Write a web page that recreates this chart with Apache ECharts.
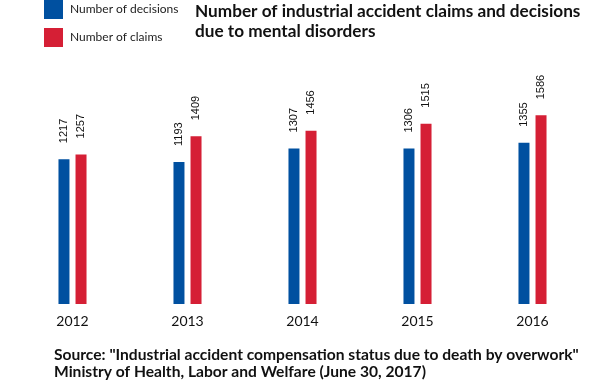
<!DOCTYPE html>
<html><head><meta charset="utf-8">
<script src="https://cdn.jsdelivr.net/npm/echarts@6/dist/echarts.min.js"></script>
<style>html,body{margin:0;padding:0;background:#fff}#c{width:600px;height:381px}</style>
</head><body><div id="c"></div>
<script>
const years = ['2012','2013','2014','2015','2016'];
const decisions = [1217, 1193, 1307, 1306, 1355];
const claims = [1257, 1409, 1456, 1515, 1586];
const seriesNames = ['Number of decisions', 'Number of claims'];
const titleText = 'Number of industrial accident claims and decisions\ndue to mental disorders';
const sourceText = 'Source: "Industrial accident compensation status due to death by overwork"\nMinistry of Health, Labor and Welfare (June 30, 2017)';

const chart = echarts.init(document.getElementById('c'), null, {renderer:'canvas'});
const valLabel = {
  show: true, position: 'top', rotate: 90, align: 'left', verticalAlign: 'middle',
  distance: 16, color: '#111', fontFamily: 'Liberation Sans', fontSize: 11
};
chart.setOption({
  animation: false,
  title: [
    {text: titleText, left: 195, top: 2, padding: 0, textStyle: {fontFamily: 'Lato', fontWeight: 'bold', fontSize: 17.2, color: '#111', lineHeight: 19.5}},
    {text: sourceText, left: 54, top: 346, padding: 0, textStyle: {fontFamily: 'Lato', fontWeight: 'bold', fontSize: 15.6, color: '#111', lineHeight: 17}}
  ],
  legend: {
    orient: 'vertical', left: 44, top: 0, padding: 0, icon: 'rect', itemWidth: 19, itemHeight: 19, itemGap: 9,
    textStyle: {fontFamily: 'Lato', fontSize: 12, color: '#222', padding: [0,0,0,2]},
    data: seriesNames
  },
  grid: {left: 15, right: 10, top: 66, bottom: 77},
  xAxis: {
    type: 'category', data: years,
    axisLine: {show: false}, axisTick: {show: false},
    axisLabel: {fontFamily: 'Lato', fontSize: 14, color: '#111', margin: 10}
  },
  yAxis: {type: 'value', min: 0, max: 2000, show: false, splitLine: {show: false}},
  series: [
    {name: seriesNames[0], type: 'bar', data: decisions, barWidth: 11, barGap: '55%', itemStyle: {color: '#0050A0'}, label: valLabel},
    {name: seriesNames[1], type: 'bar', data: claims, barWidth: 11, itemStyle: {color: '#D51F35'}, label: valLabel}
  ]
});
</script></body></html>
